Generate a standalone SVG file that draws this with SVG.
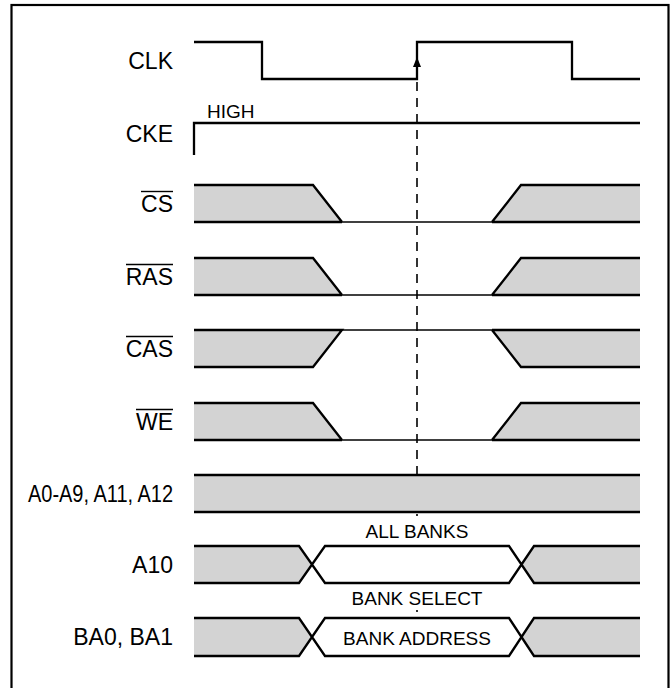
<svg xmlns="http://www.w3.org/2000/svg" width="671" height="688" viewBox="0 0 671 688">
<style>
.lbl{font-family:"Liberation Sans",Arial,sans-serif;font-size:23px;fill:#000;text-anchor:end}
.sm{font-family:"Liberation Sans",Arial,sans-serif;font-size:19px;fill:#000}
.mid{text-anchor:middle}
.fill{fill:#d3d3d3;stroke:none}
.s{fill:none;stroke:#000;stroke-width:2.3;stroke-linejoin:miter}
.t{fill:none;stroke:#000;stroke-width:1.6}
.ov{stroke:#000;stroke-width:1.4}
.dash{fill:none;stroke:#000;stroke-width:1.6;stroke-dasharray:9 7}
</style>
<rect x="0" y="0" width="671" height="688" fill="#fff"/>
<rect id="frame" x="11.5" y="5" width="657" height="700" fill="none" stroke="#000" stroke-width="2.2"/>

<g id="connectors">
<path class="dash" d="M417,82 V516"/>
<path class="t" d="M417,610 V612"/>
<polygon points="417,57 421,67 413,67" fill="#000"/>
</g>

<g id="clk">
<text class="lbl" x="173" y="69">CLK</text>
<path class="s" d="M194,42 H262 V79 H417 V42 H572 V79 H640"/>
</g>

<g id="cke">
<text class="lbl" x="173" y="141.5">CKE</text>
<text class="sm" x="207" y="118">HIGH</text>
<path class="s" d="M194,155 V123 H640"/>
</g>

<g id="cs">
<text class="lbl" x="173" y="211.5">CS</text>
<line class="ov" x1="141" y1="191.5" x2="173" y2="191.5"/>
<path class="fill" d="M194,185 H313 L342,222 H194 Z M492,222 L521,185 H640 V222 Z"/>
<path class="s" d="M194,185 H313 L342,222 M194,222 H342 M492,222 L521,185 H640 M492,222 H640"/>
<path class="t" d="M342,222 H492"/>
</g>

<g id="ras">
<text class="lbl" x="173" y="284.5">RAS</text>
<line class="ov" x1="126" y1="264.5" x2="173" y2="264.5"/>
<path class="fill" d="M194,258 H313 L342,295 H194 Z M492,295 L521,258 H640 V295 Z"/>
<path class="s" d="M194,258 H313 L342,295 M194,295 H342 M492,295 L521,258 H640 M492,295 H640"/>
<path class="t" d="M342,295 H492"/>
</g>

<g id="cas">
<text class="lbl" x="173" y="356.5">CAS</text>
<line class="ov" x1="126" y1="336.5" x2="173" y2="336.5"/>
<path class="fill" d="M194,330 H342 L313,367 H194 Z M492,330 H640 V367 H521 Z"/>
<path class="s" d="M194,330 H342 L313,367 H194 M492,330 H640 M492,330 L521,367 H640"/>
<path class="t" d="M342,330 H492"/>
</g>

<g id="we">
<text class="lbl" x="173" y="429.5">WE</text>
<line class="ov" x1="136" y1="409.5" x2="173" y2="409.5"/>
<path class="fill" d="M194,403 H313 L342,440 H194 Z M492,440 L521,403 H640 V440 Z"/>
<path class="s" d="M194,403 H313 L342,440 M194,440 H342 M492,440 L521,403 H640 M492,440 H640"/>
<path class="t" d="M342,440 H492"/>
</g>

<g id="addr">
<text class="lbl" x="173" y="501.5" textLength="145" lengthAdjust="spacingAndGlyphs">A0-A9, A11, A12</text>
<rect class="fill" x="194" y="475" width="446" height="37"/>
<path class="s" d="M194,475 H640 M194,512 H640"/>
</g>

<g id="a10">
<text class="sm mid" x="417" y="538">ALL BANKS</text>
<text class="lbl" x="173" y="572.5">A10</text>
<path class="fill" d="M194,546 H299 L312,564.5 L299,583 H194 Z M640,546 H534 L521.5,564.5 L534,583 H640 Z"/>
<path class="s" d="M194,546 H299 L325,583 H509 L534,546 H640 M194,583 H299 L325,546 H509 L534,583 H640"/>
</g>

<g id="ba">
<text class="sm mid" x="417" y="605">BANK SELECT</text>
<text class="lbl" x="173" y="645">BA0, BA1</text>
<path class="fill" d="M194,618 H299 L312,637 L299,656 H194 Z M640,618 H534 L521.5,637 L534,656 H640 Z"/>
<path class="s" d="M194,618 H299 L325,656 H509 L534,618 H640 M194,656 H299 L325,618 H509 L534,656 H640"/>
<text class="sm mid" x="417" y="644.5">BANK ADDRESS</text>
</g>
</svg>
